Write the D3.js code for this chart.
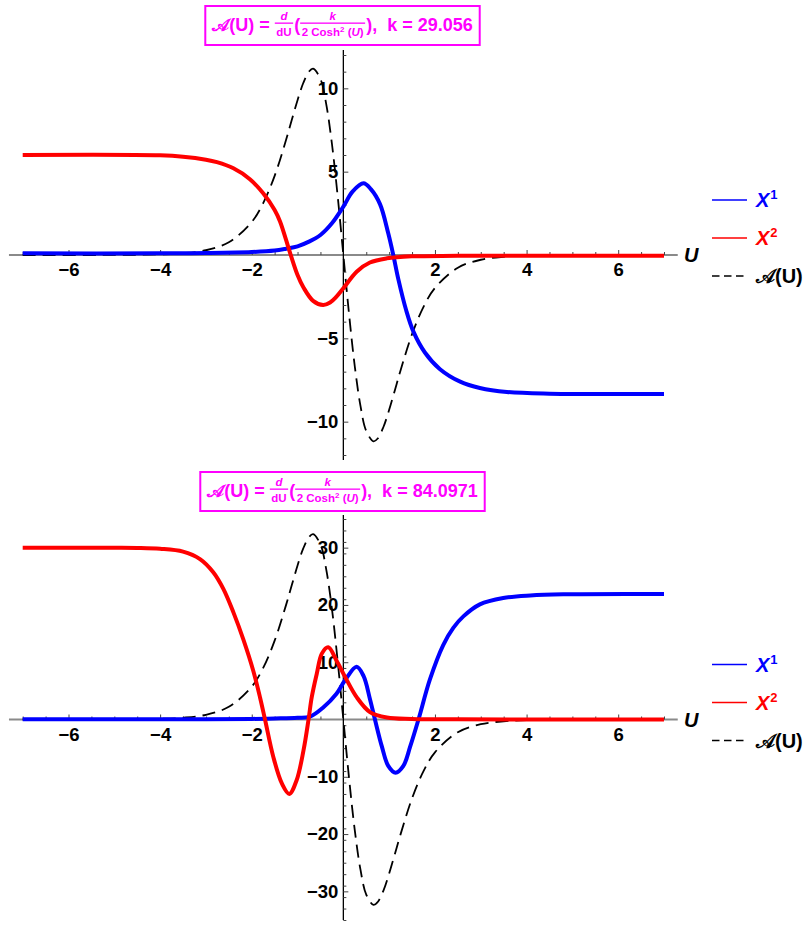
<!DOCTYPE html>
<html>
<head>
<meta charset="utf-8">
<script src="https://cdn.jsdelivr.net/npm/d3@7"></script>
<style>
  body { margin: 0; background: #fff; }
  svg { display: block; }
  text { font-family: "Liberation Sans", Arial, sans-serif; white-space: pre; }
</style>
</head>
<body>
<svg id="viz" width="807" height="926"></svg>
<script>
// ---- data ----
// dashed curve A(U), same U grid for both panels
var uA = [-7, -5, -4, -3.5, -3, -2.5, -2, -1.75, -1.5, -1.25, -1.125, -1, -0.875, -0.75, -0.66, -0.5, -0.375, -0.25, -0.125,
          0, 0.125, 0.25, 0.375, 0.5, 0.66, 0.75, 0.875, 1, 1.125, 1.25, 1.5, 1.75, 2, 2.5, 3, 3.5, 4, 5, 7];
var aTop = [0, 0.005, 0.039, 0.106, 0.285, 0.762, 1.98, 3.11, 4.75, 6.91, 8.11, 9.29, 10.32, 11.01, 11.18, 10.56, 9.07, 6.69, 3.56,
            0, -3.56, -6.69, -9.07, -10.56, -11.18, -11.01, -10.32, -9.29, -8.11, -6.91, -4.75, -3.11, -1.98, -0.762, -0.285, -0.106, -0.039, -0.005, 0];
var aBot = [0, 0.015, 0.113, 0.307, 0.826, 2.21, 5.73, 9.01, 13.76, 20.01, 23.47, 26.89, 29.87, 31.86, 32.37, 30.56, 26.26, 19.36, 10.29,
            0, -10.29, -19.36, -26.26, -30.56, -32.37, -31.86, -29.87, -26.89, -23.47, -20.01, -13.76, -9.01, -5.73, -2.21, -0.826, -0.307, -0.113, -0.015, 0];

// top panel, k = 29.056
var uTopX1 = [-7, -4, -3, -2, -1.5, -1.25, -1, -0.75, -0.5, -0.25, 0, 0.2, 0.44, 0.6, 0.8, 0.98, 1.09, 1.2, 1.37, 1.53, 1.78, 2.11, 2.55, 2.98, 3.57, 4.5, 7];
var topX1  = [0.1, 0.1, 0.12, 0.18, 0.27, 0.38, 0.52, 0.8, 1.2, 1.9, 2.9, 3.8, 4.3, 3.95, 3.05, 1.3, 0, -1.45, -3.3, -4.6, -5.85, -6.85, -7.6, -7.98, -8.22, -8.32, -8.34];
var uTopX2 = [-7, -4, -3.5, -3, -2.76, -2.4, -2.04, -1.75, -1.5, -1.38, -1.16, -1, -0.87, -0.66, -0.44, -0.29, -0.15, 0, 0.29, 0.58, 0.95, 1.5, 2.5, 7];
var topX2  = [6.0, 5.98, 5.9, 5.72, 5.57, 5.2, 4.55, 3.7, 2.7, 2.0, 0.1, -1.2, -1.95, -2.75, -3.0, -2.85, -2.5, -2.0, -1.0, -0.45, -0.2, -0.08, -0.05, -0.04];

// bottom panel, k = 84.0971
var uBotX1 = [-7, -3, -2, -1.5, -1, -0.73, -0.44, -0.15, 0.04, 0.29, 0.44, 0.58, 0.69, 0.84, 0.98, 1.14, 1.31, 1.46, 1.64, 1.89, 2.18, 2.4, 2.62, 2.98, 3.49, 4.08, 4.8, 7];
var botX1  = [0.05, 0.05, 0.1, 0.18, 0.3, 0.5, 2.1, 4.5, 6.9, 9.2, 7.6, 3.6, 0, -4.7, -8.1, -9.3, -8.1, -4.7, 0, 7.0, 13.0, 16.0, 18.0, 20.1, 21.2, 21.65, 21.85, 21.9];
var uBotX2 = [-7, -5, -4.5, -4, -3.5, -3.13, -2.84, -2.62, -2.4, -2.18, -1.97, -1.82, -1.71, -1.53, -1.34, -1.18, -1.02, -0.87, -0.76,
              -0.69, -0.58, -0.47, -0.33, -0.15, 0.04, 0.29, 0.58, 0.95, 1.5, 2.5, 7];
var botX2  = [30.0, 29.98, 29.95, 29.8, 29.3, 28.0, 25.7, 22.8, 18.7, 13.9, 8.6, 3.9, 0, -6.5, -11.2, -13.0, -10.6, -5.4, 0,
              3.9, 8.0, 11.5, 12.6, 10.3, 7.4, 3.9, 1.3, 0.35, 0.1, 0.03, 0];

var kValues = ["29.056", "84.0971"];
var xMajor = [-6, -4, -2, 2, 4, 6];
var topYMajor = [-10, -5, 5, 10];
var botYMajor = [-30, -20, -10, 10, 20, 30];
var legendBase = ["X", "X", "𝒜(U)"];
var legendSup = ["1", "2", ""];

// ---- drawing ----
var BLUE = "#0000ff", RED = "#ff0000", MAG = "#ff00ff";
var svg = d3.select("#viz");

var x = d3.scaleLinear().domain([-7, 7]).range([22.7, 664]);
var xAxisExt = [x(-7.3), x(7.3)];

var panels = [
  { y: d3.scaleLinear().domain([-12.3, 12.3]).range([460, 50]), yMajor: topYMajor, yMinorStep: 1,
    x1: [uTopX1, topX1], x2: [uTopX2, topX2], a: aTop, k: kValues[0], titleTop: 6 },
  { y: d3.scaleLinear().domain([-35, 35.7]).range([920, 515]), yMajor: botYMajor, yMinorStep: 2,
    x1: [uBotX1, botX1], x2: [uBotX2, botX2], a: aBot, k: kValues[1], titleTop: 472 }
];

function fmt(d) { return d < 0 ? "\u2212" + (-d) : String(d); }

panels.forEach(function(p) {
  var g = svg.append("g");
  var y = p.y;
  var y0 = y(0);

  // x axis line + ticks
  g.append("line").attr("x1", xAxisExt[0]).attr("x2", xAxisExt[1])
    .attr("y1", y0).attr("y2", y0).attr("stroke", "#8a8a8a").attr("stroke-width", 2);
  var xMinor = d3.range(-7, 7.01, 0.5).filter(function(v) { return v % 2 !== 0; });
  var gx = g.append("g").attr("transform", "translate(0," + y0 + ")");
  gx.call(d3.axisBottom(x).tickValues(xMajor).tickSizeInner(-5).tickSizeOuter(0).tickPadding(8).tickFormat(fmt));
  gx.append("g").call(d3.axisBottom(x).tickValues(xMinor).tickSizeInner(-3).tickSizeOuter(0).tickFormat(""));
  gx.selectAll(".domain").remove();
  gx.selectAll("line").attr("stroke", "#444");
  gx.selectAll("text").attr("font-size", 18.5).attr("font-weight", "bold").attr("fill", "#000")
    .attr("font-family", "'Liberation Sans', Arial, sans-serif");

  // y axis
  var yr = y.domain();
  g.append("line").attr("x1", x(0)).attr("x2", x(0)).attr("y1", y(yr[0])).attr("y2", y(yr[1]))
    .attr("stroke", "#000").attr("stroke-width", 1.3);
  var yMinor = d3.range(Math.ceil(yr[0]), yr[1], p.yMinorStep).filter(function(v) { return p.yMajor.indexOf(v) < 0 && v !== 0; });
  var gy = g.append("g").attr("transform", "translate(" + x(0) + ",0)");
  gy.call(d3.axisLeft(y).tickValues(p.yMajor).tickSizeInner(-5).tickSizeOuter(0).tickPadding(5).tickFormat(fmt));
  gy.append("g").call(d3.axisLeft(y).tickValues(yMinor).tickSizeInner(-3).tickSizeOuter(0).tickFormat(""));
  gy.selectAll(".domain").remove();
  gy.selectAll("line").attr("stroke", "#444");
  gy.selectAll("text").attr("font-size", 18.5).attr("font-weight", "bold").attr("fill", "#000")
    .attr("font-family", "'Liberation Sans', Arial, sans-serif");

  // curves
  function lineOf(us, vs) {
    return d3.line().x(function(d, i) { return x(us[i]); }).y(function(d) { return y(d); })
      .curve(d3.curveCatmullRom.alpha(0.5))(vs);
  }
  g.append("path").attr("d", lineOf(uA, p.a)).attr("fill", "none").attr("stroke", "#000")
    .attr("stroke-width", 1.8).attr("stroke-dasharray", "13,7");
  g.append("path").attr("d", lineOf(p.x1[0], p.x1[1])).attr("fill", "none").attr("stroke", BLUE).attr("stroke-width", 4);
  g.append("path").attr("d", lineOf(p.x2[0], p.x2[1])).attr("fill", "none").attr("stroke", RED).attr("stroke-width", 4);

  // axis label
  g.append("text").attr("x", 684).attr("y", y0 + 7).attr("font-size", 20).attr("font-weight", "bold")
    .attr("font-style", "italic").text("U");

  // legend
  var offs = [-55, -17, 21];
  var cols = [BLUE, RED, "#000"];
  legendBase.forEach(function(name, i) {
    var ly = y0 + offs[i];
    g.append("line").attr("x1", 712).attr("x2", 747).attr("y1", ly).attr("y2", ly)
      .attr("stroke", cols[i]).attr("stroke-width", 1.6).attr("stroke-dasharray", i === 2 ? "7.5,4.5" : null);
    var t = g.append("text").attr("x", 756).attr("y", ly + 7).attr("font-size", 20).attr("font-weight", "bold")
      .attr("font-style", i < 2 ? "italic" : "normal").attr("fill", cols[i]).text(name);
    if (legendSup[i]) {
      t.append("tspan").attr("font-size", 13).attr("font-style", "normal").attr("dx", 1).attr("dy", -8).text(legendSup[i]);
    }
  });

  mathTitle(p.titleTop, p.k);
});

// framed formula label above each panel
function mathTitle(top, kText) {
  var g = svg.append("g").attr("fill", MAG).attr("font-weight", "bold");
  var inner = g.append("g");
  var base = 25, cur = 0;
  function run(s, style) {
    var t = inner.append("text").attr("x", cur).attr("y", base).attr("font-size", 18)
      .attr("font-style", style || "normal").text(s);
    cur += t.node().getComputedTextLength();
  }
  function frac(numParts, denParts) {
    function build(parts, yy) {
      var t = inner.append("text").attr("y", yy).attr("font-size", 11.5);
      parts.forEach(function(pp) {
        var ts = t.append("tspan").attr("font-style", pp[1] ? "italic" : "normal").text(pp[0]);
        if (pp[2]) ts.attr("font-size", 8).attr("dy", -4);
        if (pp[3]) ts.attr("dy", 4);
      });
      return t;
    }
    var n = build(numParts, 14), d = build(denParts, 30);
    var wn = n.node().getComputedTextLength(), wd = d.node().getComputedTextLength();
    var w = Math.max(wn, wd) + 3;
    n.attr("x", cur + (w - wn) / 2);
    d.attr("x", cur + (w - wd) / 2);
    inner.append("rect").attr("x", cur).attr("y", 16.5).attr("width", w).attr("height", 1.3);
    cur += w + 1;
  }
  run("𝒜(U) = ");
  frac([["d", true]], [["dU", false]]);
  run("(");
  frac([["k", true]], [["2 Cosh", false], ["2", false, true], [" (", false, false, true], ["U", true], [")", false]]);
  run("),  k = " + kText);
  var W = cur + 14;
  g.insert("rect", ":first-child").attr("x", 0).attr("y", 0).attr("width", W).attr("height", 39)
    .attr("fill", "#fff").attr("stroke", MAG).attr("stroke-width", 2);
  inner.attr("transform", "translate(7,0)");
  g.attr("transform", "translate(" + (342.5 - W / 2) + "," + top + ")");
}
</script>
</body>
</html>
